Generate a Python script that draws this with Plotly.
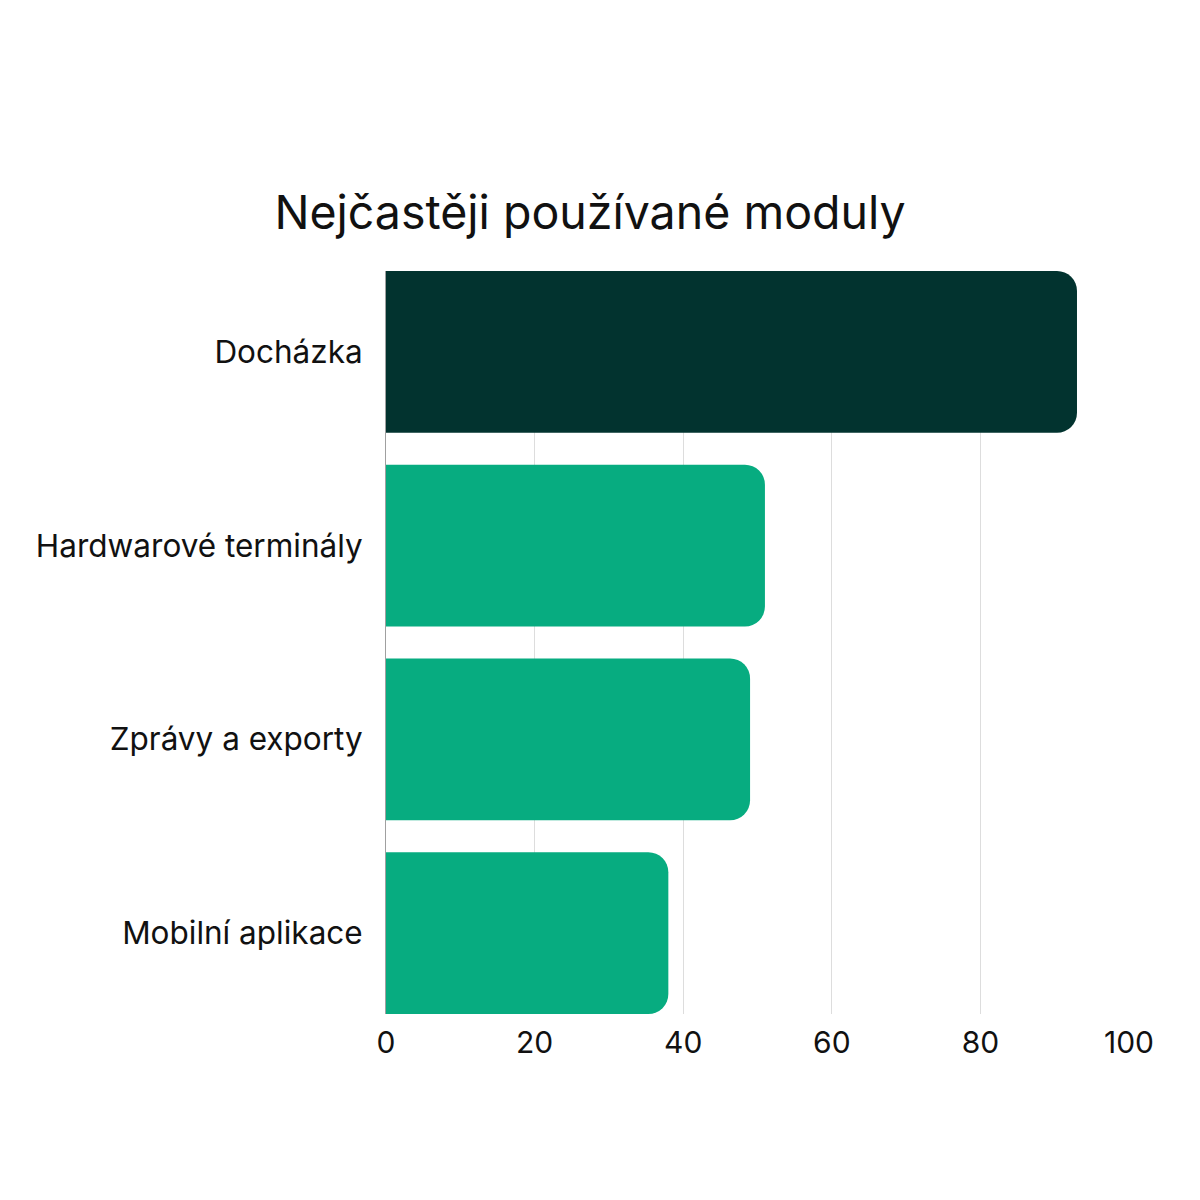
import plotly.graph_objects as go

# Data
modules = ["Docházka", "Hardwarové terminály", "Zprávy a exporty", "Mobilní aplikace"]
usage = [93, 51, 49, 38]
bar_colors = ["#02332F", "#07AC80", "#07AC80", "#07AC80"]
x_ticks = [0, 20, 40, 60, 80, 100]

gap = 0.165  # space between bars, as a share of a category

fig = go.Figure()
fig.add_trace(go.Bar(
    y=modules, x=usage, orientation="h",
    marker=dict(color=bar_colors, line=dict(width=0)),
    hoverinfo="x+y"
))

fig.update_layout(
    width=1200, height=1200,
    paper_bgcolor="white", plot_bgcolor="white",
    font=dict(family="Inter, Noto Sans, sans-serif", color="#111111", size=30),
    title=dict(text="Nejčastěji používané moduly", x=582/1200, xanchor="center",
               y=1 - 205/1200, yanchor="middle", font=dict(size=46.5, color="#111111")),
    margin=dict(l=378, r=79, t=263, b=194),
    bargap=gap, barcornerradius=20,
    showlegend=False,
)
fig.update_xaxes(range=[0, 100], tickvals=x_ticks, showgrid=True, gridcolor="#dddddd",
                 gridwidth=1, zeroline=False, showline=False, ticks="", ticklabelstandoff=8,
                 fixedrange=True)
fig.update_yaxes(range=[len(modules) - 0.5 - gap / 2, -0.5 + gap / 2],
                 showline=True, linecolor="#a0a0a0", linewidth=1, tickfont=dict(size=31.5),
                 ticks="", ticklabelstandoff=16, showgrid=False, fixedrange=True)

fig.write_html("out.html")
